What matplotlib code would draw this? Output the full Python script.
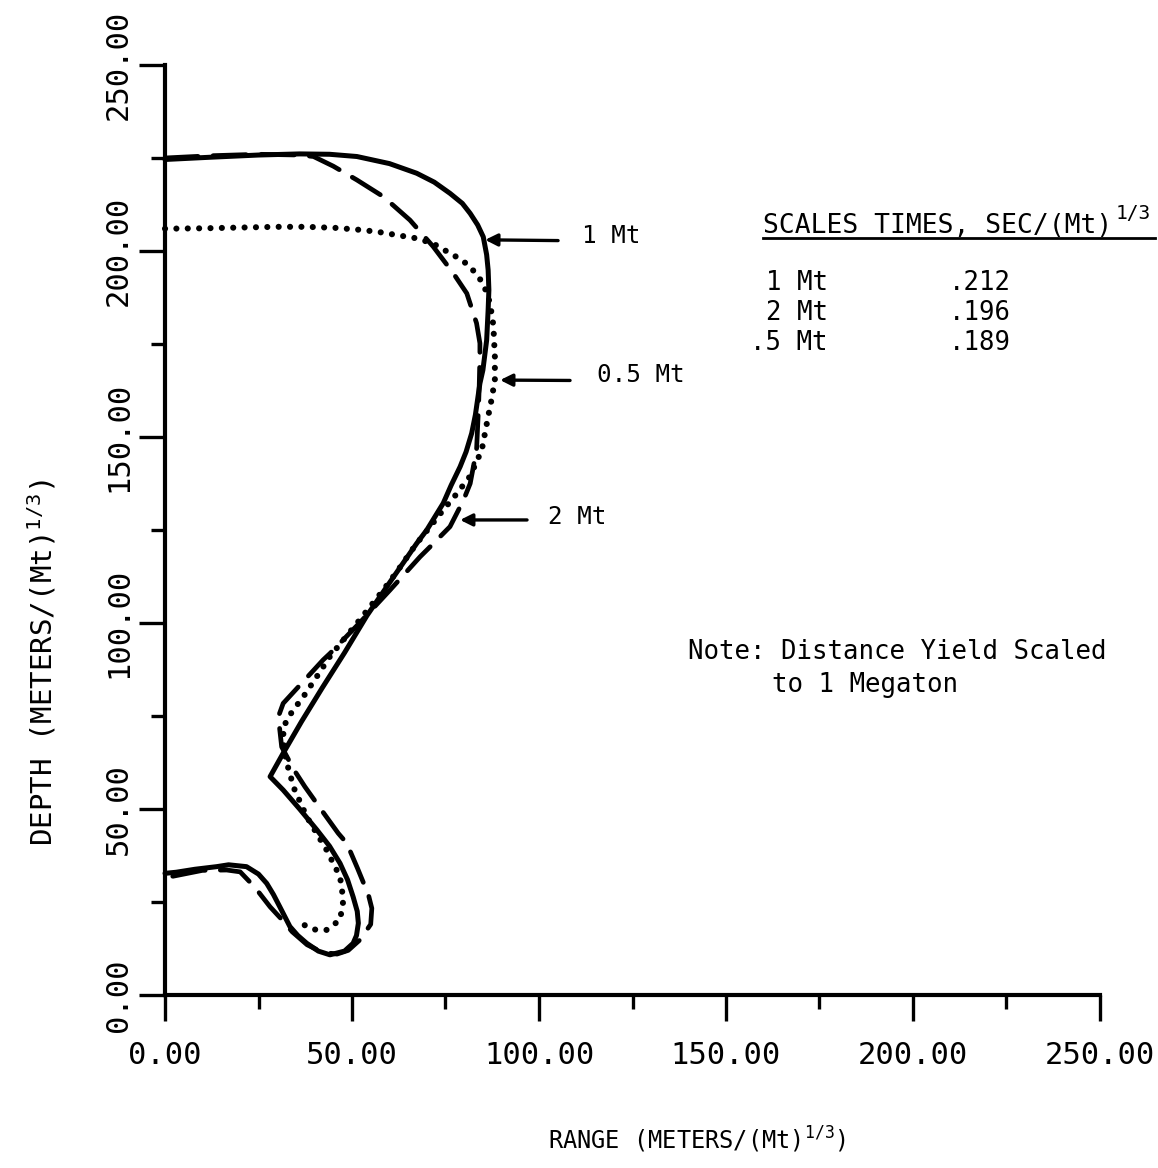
import numpy as np
import matplotlib
matplotlib.use("Agg")
import matplotlib.pyplot as plt
from matplotlib import font_manager
from matplotlib.lines import Line2D

############################################
# DATA
############################################

# 1 Mt curve (solid)
mt1_x = [0, 12, 25, 36, 44, 51.3, 60, 67.3, 72, 76.2, 79.5, 81.6, 83.6, 85.1, 86.0,
         86.4, 86.6, 86.4, 86.0, 85.0, 84.2, 83.0, 82.0, 80.5, 78.9, 76.5, 74.4, 70.0,
         67.3, 60.5, 54.0, 48.0, 42.0, 36.5, 31.6, 28.1, 31.6, 36.0, 40.6, 44.0, 46.8,
         48.8, 50.3, 51.4, 51.7, 51.2, 50.3, 48.0, 44.1, 41.0, 37.9, 35.5, 33.4, 30.7,
         29.0, 27.2, 25.0, 21.8, 17.0, 13.8, 8.0, 3.0, 0]
mt1_y = [224.6, 225.2, 225.8, 226.1, 226.0, 225.4, 223.5, 220.9, 218.5, 215.5, 212.8,
         210.1, 207.0, 203.8, 199.0, 194.9, 189.5, 184.1, 176.0, 168.0, 164.4, 156.0,
         151.0, 146.0, 142.0, 137.0, 132.2, 125.0, 121.4, 111.5, 102.0, 92.0, 82.5,
         73.5, 65.0, 58.7, 55.1, 50.0, 44.4, 40.0, 35.4, 31.0, 26.4, 22.5, 19.3, 16.0,
         13.9, 11.8, 10.8, 11.8, 13.9, 16.0, 18.4, 23.7, 27.0, 30.0, 32.5, 34.5, 35.0,
         34.5, 33.8, 33.0, 32.7]

# 2 Mt curve (dashed)
mt2_x = [0, 12, 25, 36, 39.7, 45, 51.3, 58.4, 65.5, 71.7, 77.1, 80.7, 83.3, 84.2, 84.2,
         84.0, 83.8, 83.3, 81.6, 79.8, 76.2, 70.9, 68.2, 60.2, 52.0, 44.1, 42.3, 31.6,
         30.3, 31.2, 34.5, 37.4, 42.0, 46.3, 48.6, 51.5, 54.4, 55.3, 55.0, 52.1, 49.0,
         46.0, 42.0, 38.0, 34.0, 31.5, 28.1, 24.0, 20.1, 16.5, 10.0, 0]
mt2_y = [225.0, 225.6, 226.0, 225.8, 225.4, 222.8, 219.1, 214.6, 208.3, 201.2, 194.0,
         188.6, 180.6, 175.2, 171.6, 163.0, 157.3, 146.5, 137.5, 133.0, 125.9, 120.5,
         117.8, 108.9, 100.0, 91.8, 90.1, 78.4, 74.8, 66.7, 60.5, 56.0, 49.5, 43.5,
         40.8, 34.0, 26.9, 23.3, 19.0, 14.8, 12.0, 11.0, 11.5, 13.5, 17.0, 20.0, 23.7,
         29.0, 33.1, 33.6, 33.5, 31.5]

# 0.5 Mt curve (dotted)
mt05_x = [0, 10, 20, 30, 37.9, 45.9, 52, 56.6, 61.9, 67.3, 71.7, 76.2, 79, 81.6, 85.1,
          86.9, 87.8, 88.2, 88.2, 87.3, 86.4, 84.7, 81.6, 77.8, 74.4, 70.9, 67, 62.5,
          58.4, 51.3, 44.1, 40.6, 37, 34.3, 32.5, 31.6, 31.8, 32.5, 33.4, 34.3, 37.9,
          43.2, 46.8, 47.7, 46.8, 43.2, 40, 37.9, 35.2]
mt05_y = [206.0, 206.1, 206.3, 206.5, 206.5, 206.2, 205.7, 205.2, 204.3, 203.4, 202.0,
          199.4, 197.8, 195.8, 191.3, 186.0, 180.0, 171.6, 165.3, 160.0, 155.5, 146.5,
          139.5, 134.5, 130.4, 125.9, 121.0, 114.5, 108.9, 99.9, 91.0, 85.6, 80.2, 76.6,
          73.9, 71.2, 66.5, 62.5, 59.6, 56.0, 47.9, 39.0, 31.8, 25.5, 20.2, 17.5, 17.6,
          18.4, 20.2]

xticks = [0, 50, 100, 150, 200, 250]
xtick_labels = ["0.00", "50.00", "100.00", "150.00", "200.00", "250.00"]
yticks = [0, 50, 100, 150, 200, 250]
ytick_labels = ["0.00", "50.00", "100.00", "150.00", "200.00", "250.00"]
minor_ticks = [25, 75, 125, 175, 225]

# curve labels: text, arrow tip, arrow tail, text anchor
curve_labels = ["1 Mt", "0.5 Mt", "2 Mt"]
arrow_tips = [(85.6, 203.0), (89.6, 165.3), (78.9, 127.7)]
arrow_tails = [(105.1, 202.8), (108.3, 165.2), (96.8, 127.7)]
label_pos = [(111.5, 204.0), (115.5, 166.7), (102.4, 128.5)]

table_names = ["1 Mt", "2 Mt", ".5 Mt"]
table_times = [".212", ".196", ".189"]

############################################
# FONTS / HELPERS
############################################

W, H = 1158, 1168


def fx(px):
    return px / W


def fy(py):
    return 1 - py / H


names = {f.name for f in font_manager.fontManager.ttflist}
if "Liberation Sans Narrow" in names:
    NARROW = "Liberation Sans Narrow"
    tick_size, xlab_size, ylab_size = 30, 22, 28
else:
    NARROW = "DejaVu Sans Mono"
    tick_size, xlab_size, ylab_size = 22, 17, 21
MONO = "DejaVu Sans Mono"

plt.rcParams["mathtext.fontset"] = "custom"
plt.rcParams["mathtext.rm"] = NARROW

############################################
# PLOT
############################################

fig = plt.figure(figsize=(W / 100, H / 100), dpi=100)
ax = fig.add_axes([fx(165), fy(995), (1100 - 165) / W, (995 - 65) / H])

ax.plot(mt1_x, mt1_y, color="black", lw=3.6, solid_capstyle="round",
        solid_joinstyle="round", clip_on=False)
ax.plot(mt2_x, mt2_y, color="black", lw=3.4, linestyle=(0, (7.0, 3.2)),
        dash_capstyle="round", clip_on=False)
ax.plot(mt05_x, mt05_y, color="black", lw=4.4, linestyle=(0, (0.01, 1.85)),
        dash_capstyle="round", clip_on=False)

ax.set_xlim(0, 250)
ax.set_ylim(0, 250)
for s in ["top", "right"]:
    ax.spines[s].set_visible(False)
for s in ["left", "bottom"]:
    ax.spines[s].set_linewidth(3)

ax.set_xticks(xticks)
ax.set_xticklabels(xtick_labels, fontfamily=NARROW, fontsize=tick_size)
ax.set_yticks(yticks)
ax.set_yticklabels(ytick_labels, fontfamily=NARROW, fontsize=tick_size,
                   rotation=90, va="center")
ax.set_xticks(minor_ticks, minor=True)
ax.set_yticks(minor_ticks, minor=True)
ax.tick_params(which="major", length=19, width=2.4, direction="out")
ax.tick_params(which="minor", length=10, width=2.4, direction="out")
ax.tick_params(axis="x", pad=14)
ax.tick_params(axis="y", pad=4)

# arrows + curve names
for name, tip, tail, pos in zip(curve_labels, arrow_tips, arrow_tails, label_pos):
    ax.annotate("", xy=tip, xytext=tail,
                arrowprops=dict(arrowstyle="-|>", lw=2.4, color="black",
                                mutation_scale=18, shrinkA=0, shrinkB=0))
    ax.text(pos[0], pos[1], name, fontfamily=MONO, fontsize=17.5,
            ha="left", va="center")

# axis titles
fig.text(fx(697), fy(1140), r"RANGE (METERS/(Mt)$^{\mathrm{1/3}}$)",
         fontfamily=NARROW, fontsize=xlab_size, ha="center", va="center")
fig.text(fx(42), fy(662), r"DEPTH (METERS/(Mt)$^{\mathrm{1/3}}$)",
         fontfamily=NARROW, fontsize=ylab_size, ha="center", va="center",
         rotation=90)

# scaled times table
fig.text(fx(763), fy(233), "SCALES TIMES, SEC/(Mt)", fontfamily=MONO,
         fontsize=19, ha="left", va="baseline")
fig.text(fx(1116), fy(219), "1/3", fontfamily=MONO, fontsize=14,
         ha="left", va="baseline")
fig.add_artist(Line2D([fx(763), fx(1155)], [fy(238), fy(238)],
                      color="black", lw=2))
row_y = [283, 313, 343]
for name, t, yy in zip(table_names, table_times, row_y):
    fig.text(fx(828), fy(yy), name, fontfamily=MONO, fontsize=18.5,
             ha="right", va="center")
    fig.text(fx(949), fy(yy), t, fontfamily=MONO, fontsize=18.5,
             ha="left", va="center")

# note
fig.text(fx(688), fy(652), "Note: Distance Yield Scaled", fontfamily=MONO,
         fontsize=18.5, ha="left", va="center")
fig.text(fx(772), fy(685), "to 1 Megaton", fontfamily=MONO,
         fontsize=18.5, ha="left", va="center")

fig.savefig("out.png", dpi=100)
